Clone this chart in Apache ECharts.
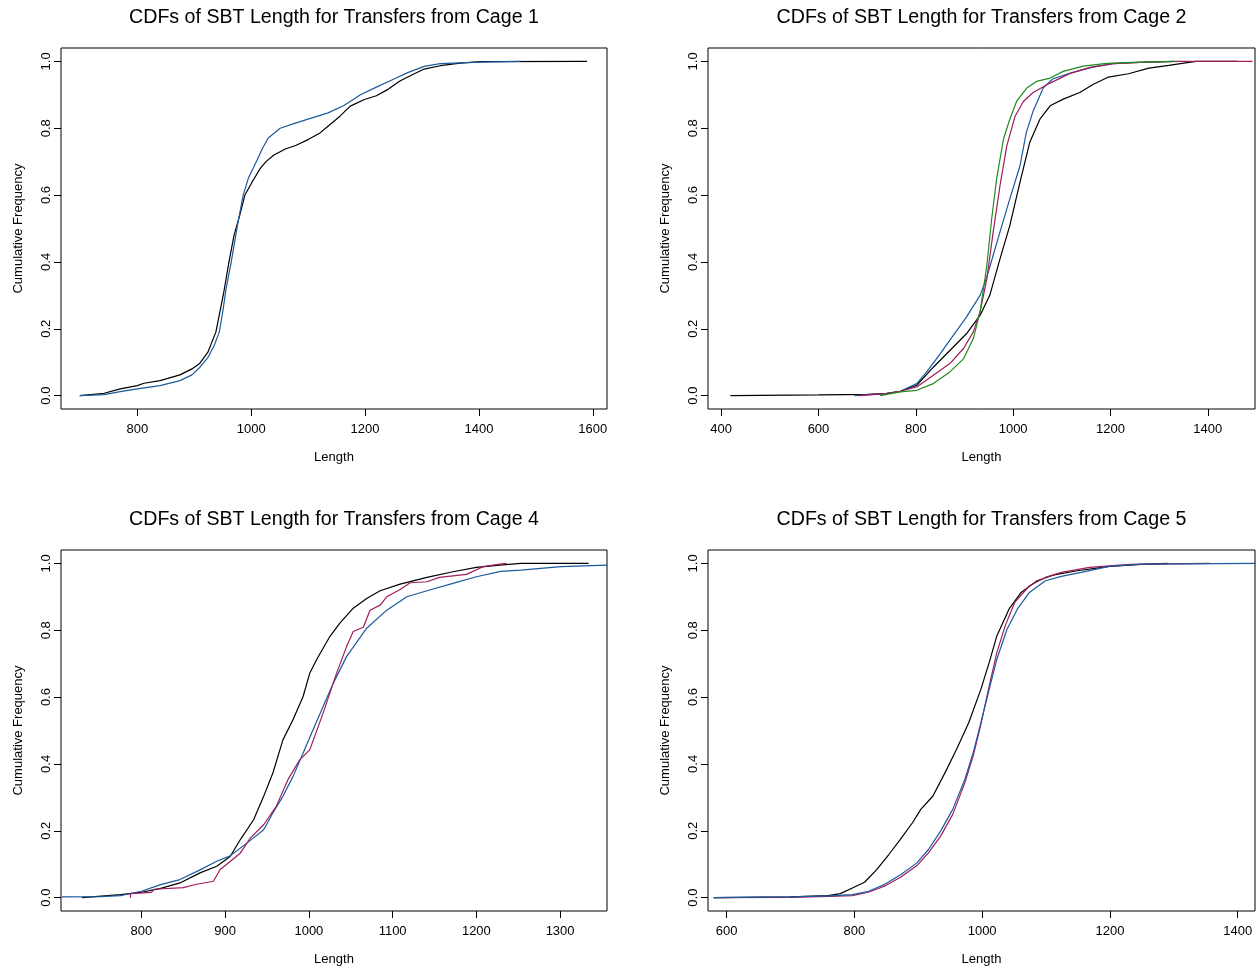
<!DOCTYPE html>
<html>
<head>
<meta charset="utf-8">
<script src="https://cdn.jsdelivr.net/npm/echarts@6/dist/echarts.min.js"></script>
<style>
html,body{margin:0;padding:0;background:#fff;}
#chart{width:1257px;height:972px;}
</style>
</head>
<body>
<div id="chart"></div>
<script>
// ---------- tick labels ----------
const yTicks = [0, 0.2, 0.4, 0.6, 0.8, 1];
const xTicks1 = [800, 1000, 1200, 1400, 1600];
const xTicks2 = [400, 600, 800, 1000, 1200, 1400];
const xTicks4 = [800, 900, 1000, 1100, 1200, 1300];
const xTicks5 = [600, 800, 1000, 1200, 1400];

const titles = [
  'CDFs of SBT Length for Transfers from Cage 1',
  'CDFs of SBT Length for Transfers from Cage 2',
  'CDFs of SBT Length for Transfers from Cage 4',
  'CDFs of SBT Length for Transfers from Cage 5'
];

// ---------- Cage 1 ----------
const c1BlackX = [699, 742, 770, 800, 812, 840, 875, 896, 910, 924, 938, 945, 952, 961, 970, 980, 989, 1002, 1016, 1026, 1040, 1060, 1079, 1100, 1121, 1135, 1156, 1174, 1199, 1220, 1241, 1262, 1283, 1304, 1332, 1367, 1403, 1590];
const c1BlackY = [0, 0.007, 0.02, 0.03, 0.037, 0.045, 0.062, 0.08, 0.097, 0.13, 0.19, 0.25, 0.31, 0.40, 0.48, 0.54, 0.60, 0.64, 0.68, 0.70, 0.72, 0.738, 0.749, 0.766, 0.786, 0.806, 0.836, 0.866, 0.886, 0.897, 0.917, 0.942, 0.96, 0.977, 0.987, 0.995, 0.999, 1.0];
const c1BlueX = [699, 742, 770, 800, 840, 875, 896, 910, 924, 935, 944, 950, 956, 965, 977, 986, 995, 1009, 1020, 1030, 1051, 1079, 1107, 1135, 1163, 1192, 1220, 1248, 1276, 1304, 1332, 1403, 1473];
const c1BlueY = [0, 0.003, 0.012, 0.02, 0.03, 0.045, 0.062, 0.085, 0.114, 0.15, 0.19, 0.25, 0.32, 0.40, 0.52, 0.60, 0.65, 0.70, 0.74, 0.771, 0.80, 0.816, 0.831, 0.846, 0.868, 0.90, 0.923, 0.945, 0.967, 0.985, 0.993, 0.998, 1.0];

// ---------- Cage 2 ----------
const c2BlackX = [419, 600, 700, 740, 768, 802, 836, 870, 904, 932, 952, 973, 993, 1014, 1034, 1055, 1076, 1103, 1137, 1164, 1196, 1237, 1279, 1320, 1361, 1377, 1460];
const c2BlackY = [0, 0.002, 0.004, 0.007, 0.013, 0.031, 0.085, 0.135, 0.185, 0.24, 0.30, 0.409, 0.508, 0.638, 0.757, 0.827, 0.867, 0.887, 0.907, 0.931, 0.953, 0.963, 0.98, 0.988, 0.997, 1.0, 1.0];
const c2BlueX = [674, 740, 768, 802, 822, 850, 877, 904, 932, 945, 959, 973, 993, 1014, 1027, 1041, 1062, 1082, 1123, 1164, 1206, 1260, 1330];
const c2BlueY = [0, 0.006, 0.013, 0.036, 0.07, 0.125, 0.18, 0.235, 0.30, 0.35, 0.42, 0.49, 0.588, 0.687, 0.787, 0.851, 0.921, 0.948, 0.967, 0.983, 0.993, 0.997, 1.0];
const c2MagentaX = [682, 740, 768, 802, 836, 870, 898, 918, 932, 946, 959, 973, 987, 1004, 1021, 1041, 1076, 1117, 1158, 1206, 1260, 1340, 1492];
const c2MagentaY = [0, 0.006, 0.013, 0.026, 0.061, 0.096, 0.141, 0.19, 0.25, 0.35, 0.49, 0.628, 0.747, 0.836, 0.88, 0.907, 0.935, 0.964, 0.982, 0.993, 0.997, 1.0, 1.0];
const c2GreenX = [727, 768, 802, 836, 870, 898, 918, 932, 946, 956, 966, 980, 993, 1007, 1028, 1048, 1076, 1103, 1144, 1192, 1247, 1332];
const c2GreenY = [0, 0.011, 0.016, 0.036, 0.071, 0.11, 0.17, 0.25, 0.39, 0.53, 0.648, 0.767, 0.826, 0.88, 0.92, 0.94, 0.95, 0.97, 0.986, 0.994, 0.997, 1.0];

// ---------- Cage 4 ----------
const c4BlackX = [729, 775, 800, 822, 846, 870, 890, 906, 918, 934, 946, 957, 969, 981, 993, 1001, 1009, 1025, 1037, 1053, 1069, 1085, 1109, 1141, 1172, 1200, 1228, 1253, 1334];
const c4BlackY = [0, 0.009, 0.016, 0.027, 0.044, 0.074, 0.094, 0.123, 0.173, 0.233, 0.303, 0.373, 0.472, 0.532, 0.601, 0.671, 0.711, 0.781, 0.821, 0.866, 0.895, 0.918, 0.938, 0.958, 0.975, 0.988, 0.995, 1.0, 1.0];
const c4BlueX = [705, 751, 775, 800, 823, 846, 870, 890, 906, 926, 946, 957, 969, 981, 993, 1005, 1017, 1029, 1045, 1069, 1093, 1117, 1141, 1172, 1200, 1229, 1253, 1301, 1356];
const c4BlueY = [0.002, 0.003, 0.006, 0.019, 0.039, 0.054, 0.083, 0.109, 0.125, 0.163, 0.203, 0.253, 0.303, 0.362, 0.432, 0.502, 0.572, 0.641, 0.721, 0.806, 0.86, 0.90, 0.918, 0.94, 0.96, 0.976, 0.98, 0.99, 0.995];
const c4MagentaX = [787, 787, 812, 815, 850, 866, 886, 894, 906, 918, 930, 946, 961, 975, 989, 1001, 1017, 1033, 1045, 1053, 1065, 1073, 1085, 1093, 1109, 1121, 1141, 1156, 1188, 1208, 1228, 1236];
const c4MagentaY = [0, 0.012, 0.016, 0.025, 0.03, 0.04, 0.049, 0.084, 0.108, 0.133, 0.178, 0.218, 0.273, 0.353, 0.412, 0.442, 0.552, 0.671, 0.751, 0.796, 0.809, 0.86, 0.875, 0.90, 0.922, 0.942, 0.945, 0.958, 0.967, 0.99, 0.998, 1.0];

// ---------- Cage 5 ----------
const c5BlackX = [580, 700, 759, 778, 797, 816, 835, 854, 872, 891, 904, 923, 942, 960, 979, 998, 1011, 1023, 1042, 1061, 1086, 1111, 1149, 1199, 1249, 1290];
const c5BlackY = [0, 0.002, 0.006, 0.012, 0.029, 0.046, 0.084, 0.129, 0.174, 0.224, 0.264, 0.304, 0.374, 0.444, 0.523, 0.623, 0.703, 0.783, 0.863, 0.913, 0.948, 0.965, 0.978, 0.991, 0.997, 1.0];
const c5BlueX = [580, 700, 760, 797, 822, 847, 873, 898, 916, 935, 954, 973, 986, 998, 1011, 1023, 1039, 1055, 1074, 1099, 1124, 1155, 1199, 1249, 1428];
const c5BlueY = [0, 0.002, 0.005, 0.009, 0.019, 0.039, 0.069, 0.104, 0.144, 0.199, 0.264, 0.354, 0.434, 0.523, 0.623, 0.713, 0.803, 0.863, 0.913, 0.948, 0.961, 0.973, 0.991, 0.998, 1.0];
const c5MagentaX = [580, 700, 760, 797, 822, 847, 873, 898, 916, 935, 954, 973, 986, 998, 1011, 1023, 1036, 1051, 1074, 1099, 1124, 1168, 1231, 1356];
const c5MagentaY = [0, 0.001, 0.004, 0.006, 0.016, 0.034, 0.062, 0.096, 0.134, 0.184, 0.249, 0.344, 0.424, 0.518, 0.633, 0.733, 0.813, 0.883, 0.933, 0.958, 0.973, 0.988, 0.997, 1.0];

// ---------- styling ----------
const FONT = '"Liberation Sans", Arial, Helvetica, sans-serif';
const BLACK = '#000000';
const BLUE = '#1a5a9e';
const MAGENTA = '#a01c5c';
const GREEN = '#1e8c1e';

const zip = (xs, ys) => xs.map((x, i) => [x, ys[i]]);

const grids = [
  {left: 61, top: 48, width: 546, height: 361},
  {left: 708, top: 48, width: 547, height: 361},
  {left: 61, top: 550, width: 546, height: 361},
  {left: 708, top: 550, width: 547, height: 361}
];
const xRanges = [[666, 1625], [373, 1497], [704, 1356], [571, 1427]];
const xTickSets = [xTicks1, xTicks2, xTicks4, xTicks5];

const panels = [
  [[c1BlackX, c1BlackY, BLACK], [c1BlueX, c1BlueY, BLUE]],
  [[c2BlackX, c2BlackY, BLACK], [c2BlueX, c2BlueY, BLUE], [c2MagentaX, c2MagentaY, MAGENTA], [c2GreenX, c2GreenY, GREEN]],
  [[c4BlackX, c4BlackY, BLACK], [c4BlueX, c4BlueY, BLUE], [c4MagentaX, c4MagentaY, MAGENTA]],
  [[c5BlackX, c5BlackY, BLACK], [c5MagentaX, c5MagentaY, MAGENTA], [c5BlueX, c5BlueY, BLUE]]
];

const xAxis = grids.map((g, i) => ({
  type: 'value', gridIndex: i, min: xRanges[i][0], max: xRanges[i][1], position: 'bottom',
  axisLine: {show: false, onZero: false},
  splitLine: {show: false},
  axisTick: {show: true, length: 7, customValues: xTickSets[i], lineStyle: {color: '#000', width: 1}},
  axisLabel: {customValues: xTickSets[i], fontSize: 13, fontFamily: FONT, color: '#000', margin: 14,
    formatter: v => String(v)}
}));
const yAxis = grids.map((g, i) => ({
  type: 'value', gridIndex: i, min: -0.04, max: 1.04, position: 'left',
  axisLine: {show: false, onZero: false},
  splitLine: {show: false},
  axisTick: {show: true, length: 7, customValues: yTicks, lineStyle: {color: '#000', width: 1}},
  axisLabel: {customValues: yTicks, rotate: 90, fontSize: 13, fontFamily: FONT, color: '#000', margin: 8,
    formatter: v => v.toFixed(1)}
}));

const series = [];
panels.forEach((lines, i) => {
  lines.forEach(([xs, ys, col]) => {
    series.push({
      type: 'line', xAxisIndex: i, yAxisIndex: i, data: zip(xs, ys),
      showSymbol: false, symbol: 'none', clip: true,
      lineStyle: {color: col, width: 1.2}, silent: true
    });
  });
});

const graphic = [];
grids.forEach((g, i) => {
  const cx = g.left + g.width / 2;
  const cy = g.top + g.height / 2;
  graphic.push({type: 'text', x: cx, y: g.top - 30, silent: true,
    style: {text: titles[i], font: '19.6px ' + FONT, fill: '#000', textAlign: 'center', textVerticalAlign: 'middle'}});
  graphic.push({type: 'text', x: cx, y: g.top + g.height + 48, silent: true,
    style: {text: 'Length', font: '13px ' + FONT, fill: '#000', textAlign: 'center', textVerticalAlign: 'middle'}});
  graphic.push({type: 'text', x: g.left - 43, y: cy, rotation: Math.PI / 2, silent: true,
    style: {text: 'Cumulative Frequency', font: '13px ' + FONT, fill: '#000', textAlign: 'center', textVerticalAlign: 'middle'}});
});

const chart = echarts.init(document.getElementById('chart'), null, {renderer: 'canvas'});
chart.setOption({
  animation: false,
  backgroundColor: '#fff',
  grid: grids.map(g => Object.assign({show: true, borderColor: '#000', borderWidth: 1, backgroundColor: 'transparent'}, g)),
  xAxis, yAxis, series, graphic
});
</script>
</body>
</html>
